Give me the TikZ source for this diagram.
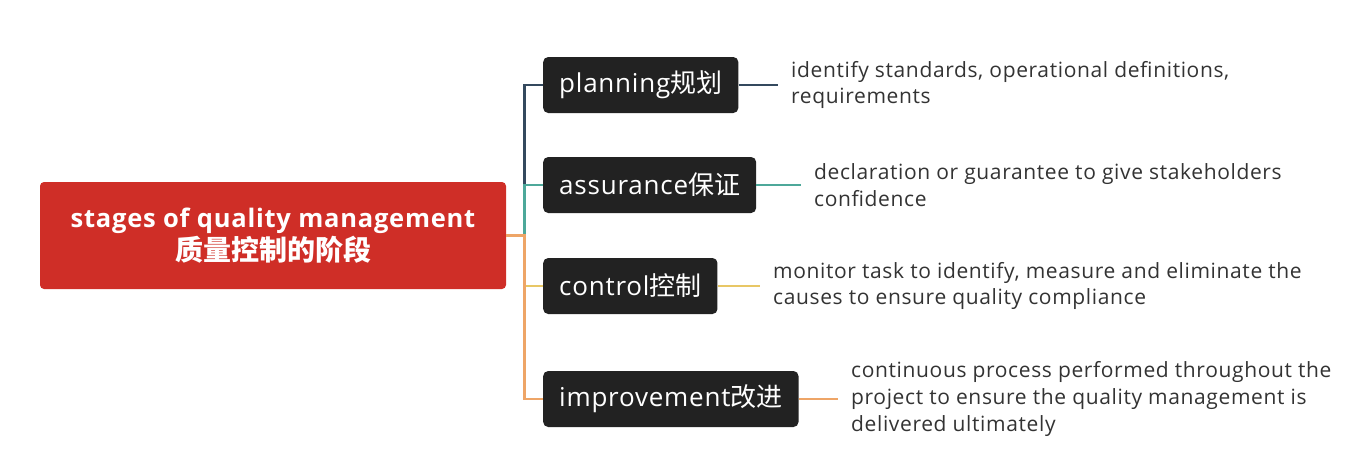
\documentclass[tikz,border=0pt]{standalone}
\usepackage{fontspec}
\setmainfont{Open Sans}[LetterSpace=3]
\newfontfamily\cjk{Noto Sans CJK SC}
\usetikzlibrary{positioning}
\definecolor{RootRed}{HTML}{CF2E27}
\definecolor{StageBlack}{HTML}{222222}
\definecolor{TextGray}{HTML}{333333}
\definecolor{PlanSlate}{HTML}{34495E}
\definecolor{AssureTeal}{HTML}{4DA89A}
\definecolor{ControlGold}{HTML}{E8C765}
\definecolor{ImproveOrange}{HTML}{EEA567}
\tikzset{
    % Root topic
    rootnode/.style={
        fill=RootRed,
        text=white,
        rounded corners=4pt,
        minimum width=466pt,
        minimum height=107pt,
        align=center,
        font=\fontsize{25.5}{33}\selectfont\bfseries
    },
    % Stage boxes
    stagenode/.style={
        fill=StageBlack,
        text=white,
        rounded corners=5pt,
        minimum height=56pt,
        inner xsep=16pt,
        anchor=west,
        font=\fontsize{26}{30}\selectfont
    },
    % Description text
    descnode/.style={
        text=TextGray,
        anchor=west,
        align=left,
        inner xsep=13pt,
        inner ysep=0pt,
        font=\fontsize{21}{26.8}\selectfont
    },
    % Branch lines
    branch/.style={
        line width=2.6pt
    }
}
\begin{document}
\begin{tikzpicture}[x=1pt, y=-1pt]
    \useasboundingbox (0,0) rectangle (1372,472);
    \node[rootnode] (root) at (273,235.5) {stages of quality management\\{\cjk\fontsize{28}{33}\selectfont 质量控制的阶段}};

    \node[stagenode] (plan) at (543,85) {planning{\cjk 规划}};
    \node[stagenode] (assure) at (543,185) {assurance{\cjk 保证}};
    \node[stagenode] (control) at (543,286) {control{\cjk 控制}};
    \node[stagenode] (improve) at (543,399) {improvement{\cjk 改进}};

    \node[descnode] (plandesc) at (778,85) {identify standards, operational definitions,\\requirements};
    \node[descnode] (assuredesc) at (801,185) {declaration or guarantee to give stakeholders\\confidence};
    \node[descnode] (controldesc) at (760,286) {monitor task to identify, measure and eliminate the\\causes to ensure quality compliance};
    \node[descnode] (improvedesc) at (838,399) {continuous process performed throughout the\\project to ensure the quality management is\\delivered ultimately};

    \draw[branch, PlanSlate] (root.east) -- ++(18,0) |- (plan.west);
    \draw[branch, AssureTeal] (root.east) -- ++(18,0) |- (assure.west);
    \draw[branch, ControlGold] (root.east) -- ++(18,0) |- (control.west);
    \draw[branch, ImproveOrange] (root.east) -- ++(18,0) |- (improve.west);

    \draw[branch, PlanSlate] (plan.east) -- (plandesc.west);
    \draw[branch, AssureTeal] (assure.east) -- (assuredesc.west);
    \draw[branch, ControlGold] (control.east) -- (controldesc.west);
    \draw[branch, ImproveOrange] (improve.east) -- (improvedesc.west);
\end{tikzpicture}
\end{document}
